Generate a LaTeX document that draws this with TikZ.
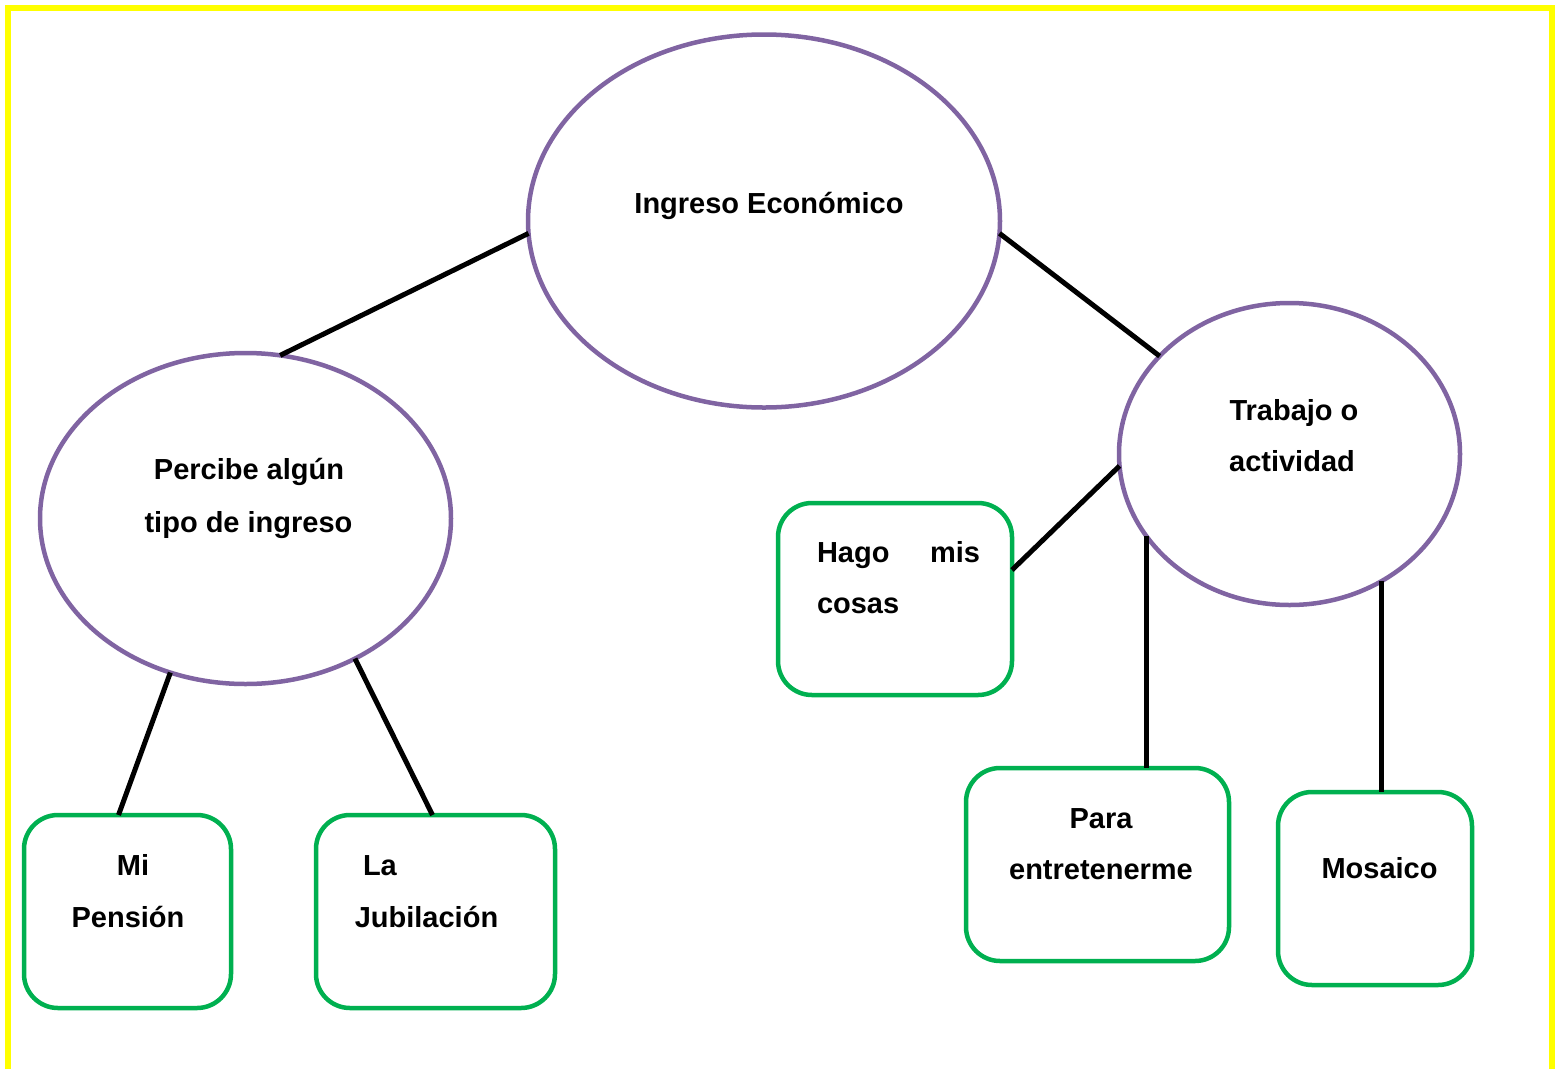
\documentclass[tikz,border=0pt]{standalone}
\usepackage{fontspec}
\setmainfont{Liberation Sans}
\usetikzlibrary{shapes.geometric}
\definecolor{frameyellow}{RGB}{255,255,0}
\definecolor{ellpurple}{RGB}{128,100,162}
\definecolor{boxgreen}{RGB}{0,176,80}
\tikzset{
  oval/.style={ellipse, draw=ellpurple, line width=4.5, inner sep=0, outer sep=0},
  roundbox/.style={rectangle, rounded corners=34, draw=boxgreen, line width=4.5, inner sep=0, outer sep=0},
  link/.style={black, line width=5},
  txt/.style={inner sep=0, outer sep=0, font=\fontsize{29}{34}\selectfont\bfseries},
}
\begin{document}
\begin{tikzpicture}[x=1pt,y=-1pt]
\useasboundingbox (0,0) rectangle (1561,1069);
% frame
\draw[frameyellow, line width=6] (8,1069) -- (8,8) -- (1552,8) -- (1552,1069);
% ellipses
\node[oval, minimum width=472, minimum height=373] (ing) at (764,221) {};
\node[oval, minimum width=411, minimum height=331] (per) at (245.5,518.5) {};
\node[oval, minimum width=341, minimum height=302] (trab) at (1289.5,454) {};
% boxes
\node[roundbox, minimum width=207, minimum height=193] (mi) at (127.5,911.5) {};
\node[roundbox, minimum width=239, minimum height=193] (jub) at (435.5,911.5) {};
\node[roundbox, minimum width=234, minimum height=192] (hago) at (895,599) {};
\node[roundbox, minimum width=263, minimum height=193] (para) at (1097.5,864.5) {};
\node[roundbox, minimum width=194, minimum height=193] (mos) at (1375,888.5) {};
% texts
\node[txt, anchor=base] (t1) at (769,213) {Ingreso Económico};
\node[txt, anchor=base] (t2) at (249,479) {Percibe algún};
\node[txt, anchor=base] (t3) at (248.5,532) {tipo de ingreso};
\node[txt, anchor=base] (t4) at (1294,420) {Trabajo o};
\node[txt, anchor=base] (t5) at (1292,471) {actividad};
\node[txt, anchor=base west] (t6) at (817,562) {\makebox[163pt][s]{Hago\hfill mis}};
\node[txt, anchor=base west] (t7) at (817,613) {cosas};
\node[txt, anchor=base] (t8) at (133,875) {Mi};
\node[txt, anchor=base] (t9) at (128,927) {Pensión};
\node[txt, anchor=base west] (t10) at (363,875) {La};
\node[txt, anchor=base] (t11) at (426.5,927) {Jubilación};
\node[txt, anchor=base] (t12) at (1101,828) {Para};
\node[txt, anchor=base] (t13) at (1101,879) {entretenerme};
\node[txt, anchor=base] (t14) at (1379.5,878) {Mosaico};
% connectors
\draw[link] (ing.183) -- (per.78);
\draw[link] (ing.-3) -- (trab.143);
\draw[link] (per.244) -- ([xshift=-9]mi.north);
\draw[link] (per.308) -- ([xshift=-3]jub.north);
\draw[link] (trab.184) -- ([yshift=29]hago.east);
\draw[link] (trab.210) -- (trab.210 |- para.north);
\draw[link] (trab.306) -- (trab.306 |- mos.north);
\end{tikzpicture}
\end{document}
